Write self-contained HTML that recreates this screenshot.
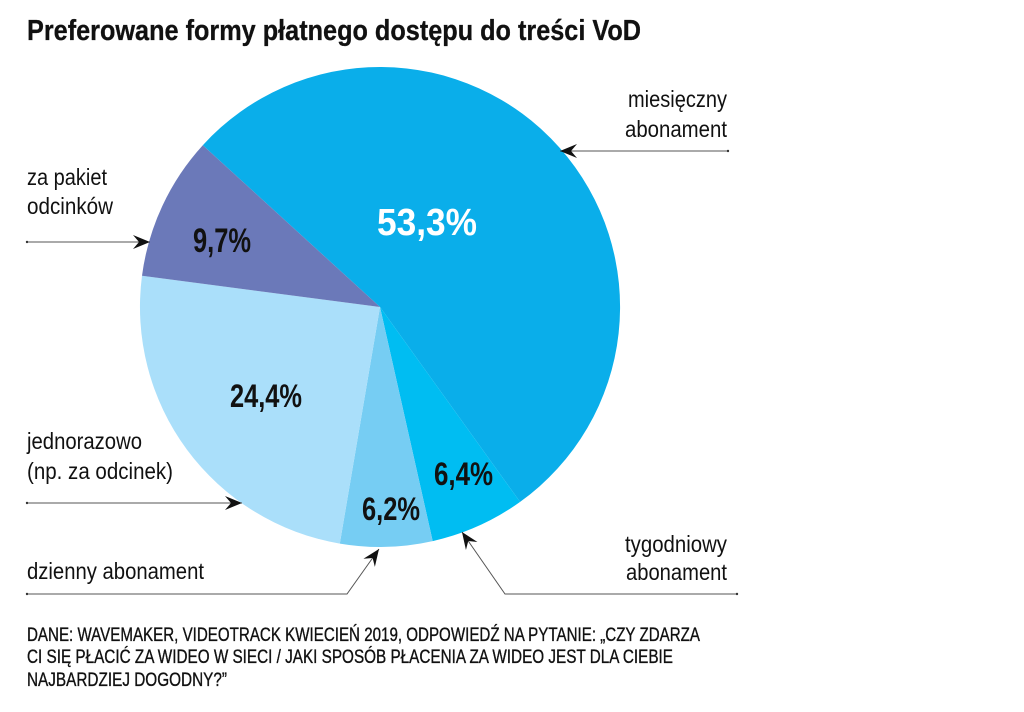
<!DOCTYPE html>
<html>
<head>
<meta charset="utf-8">
<style>
  html, body { margin: 0; padding: 0; background: #ffffff; }
  svg { display: block; }
  text { font-family: "Liberation Sans", "Noto Sans CJK SC", sans-serif; }
</style>
</head>
<body>
<svg width="1024" height="712" viewBox="0 0 1024 712" xmlns="http://www.w3.org/2000/svg">
  <defs>
    <marker id="ah" markerUnits="userSpaceOnUse" markerWidth="22" markerHeight="18" refX="18" refY="8" orient="auto">
      <path d="M18,8 L1,1 L7,8 L1,15 Z" fill="#111"/>
    </marker>
  </defs>
  <rect width="1024" height="712" fill="#ffffff"/>

  <!-- Title -->
  <text x="27" y="40" font-size="29" font-weight="bold" fill="#111" stroke="#111" stroke-width="0.3" textLength="614" lengthAdjust="spacingAndGlyphs">Preferowane formy płatnego dostępu do treści VoD</text>

  <!-- Pie -->
  <path d="M380,307 L202.8,145.2 A240,240 0 1 1 520.1,501.9 Z" fill="#0aaeea"/>
  <path d="M380,307 L520.1,501.9 A240,240 0 0 1 432.7,541.1 Z" fill="#00bdf2"/>
  <path d="M380,307 L432.7,541.1 A240,240 0 0 1 339.8,543.6 Z" fill="#76cdf3"/>
  <path d="M380,307 L339.8,543.6 A240,240 0 0 1 142.0,275.8 Z" fill="#aadffa"/>
  <path d="M380,307 L142.0,275.8 A240,240 0 0 1 202.8,145.2 Z" fill="#6b79b9"/>

  <!-- Percent labels -->
  <text x="377" y="235" font-size="38" font-weight="bold" fill="#ffffff" textLength="100" lengthAdjust="spacingAndGlyphs">53,3%</text>
  <text x="193" y="252" font-size="34" font-weight="bold" fill="#111" textLength="58" lengthAdjust="spacingAndGlyphs">9,7%</text>
  <text x="230" y="407" font-size="32" font-weight="bold" fill="#111" textLength="72" lengthAdjust="spacingAndGlyphs">24,4%</text>
  <text x="434" y="485" font-size="32" font-weight="bold" fill="#111" textLength="59" lengthAdjust="spacingAndGlyphs">6,4%</text>
  <text x="362" y="520" font-size="32" font-weight="bold" fill="#111" textLength="58" lengthAdjust="spacingAndGlyphs">6,2%</text>

  <!-- Category labels -->
  <g font-size="23" fill="#111">
    <text x="628" y="107" textLength="99" lengthAdjust="spacingAndGlyphs">miesięczny</text>
    <text x="625" y="137" textLength="102" lengthAdjust="spacingAndGlyphs">abonament</text>

    <text x="27" y="185" textLength="80" lengthAdjust="spacingAndGlyphs">za pakiet</text>
    <text x="27" y="214" textLength="86" lengthAdjust="spacingAndGlyphs">odcinków</text>

    <text x="27" y="449" textLength="115" lengthAdjust="spacingAndGlyphs">jednorazowo</text>
    <text x="27" y="479" textLength="146" lengthAdjust="spacingAndGlyphs">(np. za odcinek)</text>

    <text x="27" y="579" textLength="177" lengthAdjust="spacingAndGlyphs">dzienny abonament</text>

    <text x="625" y="552" textLength="102" lengthAdjust="spacingAndGlyphs">tygodniowy</text>
    <text x="626" y="580" textLength="101" lengthAdjust="spacingAndGlyphs">abonament</text>
  </g>

  <!-- Leader lines with arrows -->
  <g stroke="#555" stroke-width="1" fill="none">
    <path d="M728,151 L560,151" marker-end="url(#ah)"/>
    <path d="M27,242 L150,242" marker-end="url(#ah)"/>
    <path d="M27,503 L242,503" marker-end="url(#ah)"/>
    <path d="M27,594 L347,594 L379,549" marker-end="url(#ah)"/>
    <path d="M737,594 L505,594 L462,532" marker-end="url(#ah)"/>
  </g>
  <g fill="#333">
    <circle cx="728" cy="151" r="1.2"/>
    <circle cx="27" cy="242" r="1.2"/>
    <circle cx="27" cy="503" r="1.2"/>
    <circle cx="27" cy="594" r="1.2"/>
    <circle cx="737" cy="594" r="1.2"/>
  </g>

  <!-- Footer -->
  <g font-size="19" fill="#111" stroke="#111" stroke-width="0.35">
    <text x="27" y="641" textLength="673" lengthAdjust="spacingAndGlyphs">DANE: WAVEMAKER, VIDEOTRACK KWIECIEŃ 2019, ODPOWIEDŹ NA PYTANIE: „CZY ZDARZA</text>
    <text x="27" y="663" textLength="646" lengthAdjust="spacingAndGlyphs">CI SIĘ PŁACIĆ ZA WIDEO W SIECI / JAKI SPOSÓB PŁACENIA ZA WIDEO JEST DLA CIEBIE</text>
    <text x="27" y="686" textLength="200" lengthAdjust="spacingAndGlyphs">NAJBARDZIEJ DOGODNY?”</text>
  </g>
</svg>
</body>
</html>
